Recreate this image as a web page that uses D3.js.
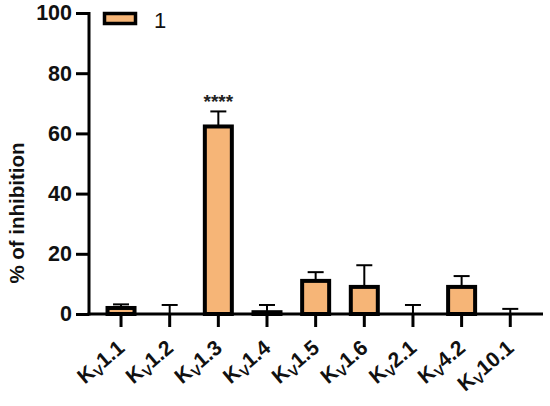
<!DOCTYPE html>
<html>
<head>
<meta charset="utf-8">
<script src="https://cdn.jsdelivr.net/npm/d3@7"></script>
<style>
  html, body { margin: 0; padding: 0; background: #fff; }
  svg { display: block; font-family: "Liberation Sans", Arial, sans-serif; }
</style>
</head>
<body>
<svg id="chart" width="550" height="406"></svg>
<script>
const channels = ["1.1", "1.2", "1.3", "1.4", "1.5", "1.6", "2.1", "4.2", "10.1"];
const inhibition = [2, 0, 62.3, 0.6, 11, 9, 0, 9, 0];
const errorTop = [3.2, 3.0, 67.3, 3.0, 13.9, 16.2, 3.0, 12.6, 1.7];
const yTicks = [0, 20, 40, 60, 80, 100];
const seriesName = "1";
const significance = ["", "", "****", "", "", "", "", "", ""];

const svg = d3.select("#chart");
const fill = "#F6B577";

const y = d3.scaleLinear().domain([0, 100]).range([314, 13]);
const p = 0.445;
const x = d3.scaleBand().domain(channels).range([96.7, 534.6]).paddingInner(p).paddingOuter(p / 2);

svg.append("g").selectAll("rect").data(channels).join("rect")
  .attr("x", d => x(d))
  .attr("width", x.bandwidth())
  .attr("y", (d, i) => y(inhibition[i]))
  .attr("height", (d, i) => y(0) - y(inhibition[i]))
  .attr("fill", fill)
  .attr("stroke", "#000")
  .attr("stroke-width", 4);

const eb = svg.append("g").attr("stroke", "#000").attr("stroke-width", 2);
channels.forEach((d, i) => {
  const cx = x(d) + x.bandwidth() / 2;
  eb.append("line").attr("x1", cx).attr("x2", cx).attr("y1", y(inhibition[i])).attr("y2", y(errorTop[i]));
  eb.append("line").attr("x1", cx - 8).attr("x2", cx + 8).attr("y1", y(errorTop[i])).attr("y2", y(errorTop[i]));
});

svg.append("g").selectAll("text").data(channels).join("text")
  .attr("x", d => x(d) + x.bandwidth() / 2)
  .attr("y", (d, i) => y(errorTop[i]) - 3)
  .attr("text-anchor", "middle")
  .attr("font-size", 19)
  .attr("font-weight", "bold")
  .attr("fill", "#222")
  .text((d, i) => significance[i]);

const yAxis = svg.append("g").attr("transform", "translate(89,0)")
  .call(d3.axisLeft(y).tickValues(yTicks).tickSize(13).tickPadding(4));
yAxis.select(".domain").attr("stroke", "#000").attr("stroke-width", 3).attr("d", `M0,${y(100) - 1}V${y(0) + 1.5}`);
yAxis.selectAll(".tick line").attr("stroke", "#000").attr("stroke-width", 3);
yAxis.selectAll(".tick text").attr("font-size", 21.5).attr("font-weight", "bold").attr("fill", "#111")
  .attr("font-family", "Liberation Sans, Arial, sans-serif");

const xAxis = svg.append("g").attr("transform", `translate(0,${y(0)})`)
  .call(d3.axisBottom(x).tickSize(13).tickFormat(""));
xAxis.select(".domain").attr("stroke", "#000").attr("stroke-width", 3).attr("d", "M87.5,0H543");
xAxis.selectAll(".tick line").attr("stroke", "#000").attr("stroke-width", 3);

// x labels: rotation on a group, separate text pieces (K, subscript V, number)
const fsMain = 21, fsSub = 14.5;
const labG = svg.append("g").selectAll("g").data(channels).join("g")
  .attr("transform", d => `translate(${x(d) + x.bandwidth() / 2 + 5},350) rotate(-40)`);
labG.each(function (d) {
  const g = d3.select(this);
  const num = g.append("text").attr("x", 0).attr("y", 0).attr("text-anchor", "end")
    .attr("font-size", fsMain).attr("font-weight", "bold").attr("fill", "#111").text(d);
  let wNum = 0;
  try { wNum = num.node().getComputedTextLength(); } catch (e) { wNum = 0; }
  if (!wNum) wNum = d.length * fsMain * 0.5;
  const v = g.append("text").attr("x", -wNum).attr("y", 4).attr("text-anchor", "end")
    .attr("font-size", fsSub).attr("font-weight", "bold").attr("fill", "#111").text("V");
  let wV = 0;
  try { wV = v.node().getComputedTextLength(); } catch (e) { wV = 0; }
  if (!wV) wV = fsSub * 0.667;
  g.append("text").attr("x", -wNum - wV).attr("y", 0).attr("text-anchor", "end")
    .attr("font-size", fsMain).attr("font-weight", "bold").attr("fill", "#111").text("K");
});

svg.append("text")
  .attr("transform", "translate(24,213) rotate(-90)")
  .attr("text-anchor", "middle")
  .attr("font-size", 20.5)
  .attr("font-weight", "bold")
  .attr("fill", "#111")
  .text("% of inhibition");

svg.append("rect").attr("x", 104.5).attr("y", 13.5).attr("width", 31).attr("height", 10)
  .attr("fill", fill).attr("stroke", "#000").attr("stroke-width", 3.5);
svg.append("text").attr("x", 154).attr("y", 28).attr("font-size", 22).attr("fill", "#111").text(seriesName);
</script>
</body>
</html>
